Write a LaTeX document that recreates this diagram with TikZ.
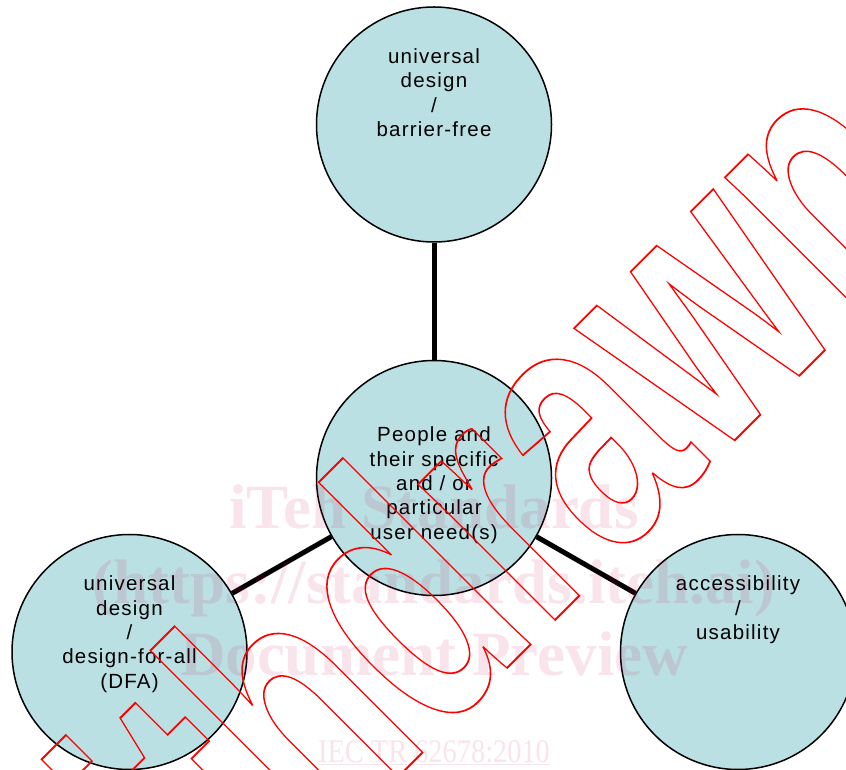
\documentclass[tikz,border=0pt]{standalone}
\usepackage{fontspec}
\setmainfont{Liberation Sans}
\newfontfamily\lblfont[LetterSpace=6]{Liberation Sans}
\newfontfamily\wmserif{Liberation Serif}
\newfontfamily\wmsans{Liberation Sans}
\definecolor{bubblefill}{RGB}{187,224,227}
\definecolor{wmpink}{RGB}{200,30,80}
\newcommand{\outlinetext}[1]{\special{pdf:literal direct 1 0 0 RG 1.8 w 1 Tr}#1\special{pdf:literal direct 0 Tr}}
\begin{document}
\begin{tikzpicture}[x=1pt,y=1pt,
  bubble/.style={circle,draw=black,line width=1.5pt,fill=bubblefill,minimum size=235pt,inner sep=0pt},
  bubbletext/.style={anchor=north,align=center,inner sep=0pt,font={\lblfont\fontsize{20.5}{24.3}\selectfont}},
  link/.style={draw=black,line width=5pt},
  wmline/.style={anchor=base,inner sep=0pt,text=wmpink,text opacity=0.12,font={\wmserif\bfseries\fontsize{63}{70}\selectfont}},
  wmref/.style={anchor=base,inner sep=0pt,text=wmpink,text opacity=0.12,xscale=0.86,font={\wmserif\fontsize{33}{36}\selectfont}},
  outlineword/.style={anchor=base west,inner sep=0pt,rotate=45,xscale=0.69,text=red,font={\wmsans\bfseries\fontsize{365}{365}\selectfont}}
]
\useasboundingbox (0,0) rectangle (846,769);
% bubbles
\node[bubble] (top)   at (434,644.5) {};
\node[bubble] (mid)   at (434,291) {};
\node[bubble] (left)  at (129.5,117) {};
\node[bubble] (right) at (738,117) {};
% connectors
\draw[link] (top) -- (mid);
\draw[link] (mid) -- (left);
\draw[link] (mid) -- (right);
% labels
\node[bubbletext] (toptext) at (434,721.7) {\rule{0pt}{16pt}universal\\design\\/\\barrier-free};
\node[bubbletext] (midtext) at (434,343.3) {\rule{0pt}{16pt}People and\\their specific\\and / or\\particular\\user need(s)};
\node[bubbletext] (lefttext) at (129.5,194.3) {\rule{0pt}{16pt}universal\\design\\/\\design-for-all\\(DFA)};
\node[bubbletext] (righttext) at (738,194.3) {\rule{0pt}{16pt}accessibility\\/\\usability};
% watermark
\node[wmline] (wm1) at (434,240) {iTeh Standards};
\node[wmline] (wm2) at (434,166) {(https://standards.iteh.ai)};
\node[wmline] (wm3) at (434,94) {Document Preview};
\node[wmref] (wm4) at (434,6.3) {\underline{IEC TR 62678:2010}};
\node[outlineword] (withdrawn) at (710.5,304.5) {\outlinetext{\llap{Withdra}wn}};
\end{tikzpicture}
\end{document}
